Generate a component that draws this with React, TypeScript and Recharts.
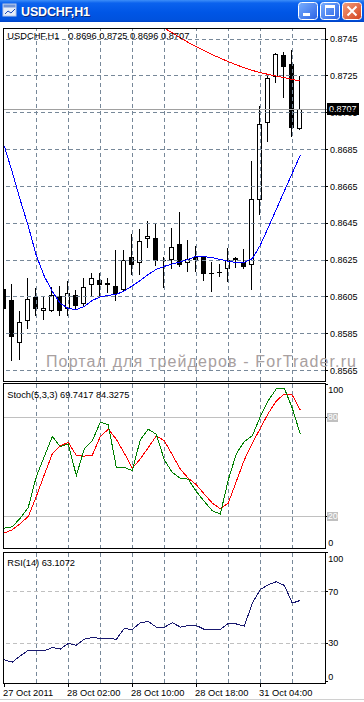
import React from 'react';
import { ComposedChart, Bar, Line, XAxis, YAxis, ReferenceLine } from 'recharts';

// ---------- data ----------
const openP = [0.86091, 0.86032, 0.85802, 0.85922, 0.8605, 0.85976, 0.85976, 0.86053, 0.85987, 0.86063, 0.86012, 0.86117, 0.86144, 0.86124, 0.86108, 0.86086, 0.86265, 0.86237, 0.86367, 0.86371, 0.86253, 0.86253, 0.86336, 0.86237, 0.86265, 0.86267, 0.86182, 0.86184, 0.86204, 0.86264, 0.86238, 0.86226, 0.86579, 0.86995, 0.87245, 0.87363, 0.87312, 0.8696];
const highP = [0.8612, 0.86122, 0.85972, 0.86155, 0.86098, 0.8605, 0.86104, 0.86108, 0.86137, 0.8609, 0.86155, 0.86182, 0.86182, 0.86155, 0.86307, 0.86307, 0.86394, 0.86417, 0.86463, 0.8645, 0.86268, 0.86427, 0.8651, 0.86358, 0.86325, 0.86272, 0.8624, 0.86229, 0.86318, 0.86268, 0.86309, 0.86789, 0.87086, 0.87249, 0.87376, 0.87377, 0.8739, 0.8725];
const lowP = [0.8566, 0.85706, 0.85715, 0.85883, 0.85954, 0.85932, 0.85972, 0.8595, 0.85954, 0.85987, 0.85999, 0.86059, 0.86063, 0.86077, 0.86036, 0.86082, 0.86173, 0.86177, 0.86321, 0.86222, 0.86104, 0.86209, 0.8622, 0.86191, 0.86191, 0.86144, 0.86082, 0.86164, 0.86137, 0.86213, 0.8621, 0.86095, 0.86499, 0.86897, 0.87218, 0.87137, 0.86925, 0.8696];
const closeP = [0.85985, 0.85831, 0.85916, 0.86037, 0.85987, 0.8599, 0.86063, 0.85976, 0.86073, 0.86003, 0.86106, 0.86155, 0.86117, 0.86113, 0.86068, 0.86253, 0.86226, 0.86356, 0.86379, 0.86245, 0.86245, 0.86323, 0.86224, 0.86256, 0.86249, 0.86174, 0.86177, 0.86184, 0.86253, 0.86249, 0.86213, 0.86584, 0.86988, 0.87237, 0.87369, 0.873, 0.86968, 0.8707];
const maFast = [0.86869, 0.86727, 0.86575, 0.86434, 0.86275, 0.86162, 0.8608, 0.86015, 0.85988, 0.85981, 0.85999, 0.86032, 0.8605, 0.86059, 0.86064, 0.86083, 0.8611, 0.8614, 0.86172, 0.862, 0.86216, 0.8623, 0.8624, 0.86254, 0.86271, 0.86269, 0.86263, 0.86254, 0.86243, 0.86238, 0.86238, 0.86258, 0.86331, 0.86428, 0.86526, 0.86624, 0.86722, 0.8682];
const maSlow = [null, null, null, null, null, null, null, null, null, null, null, null, null, null, null, null, null, null, 0.87568, 0.87538, 0.8751, 0.87483, 0.87456, 0.87431, 0.87408, 0.87386, 0.87365, 0.87346, 0.87327, 0.8731, 0.87294, 0.8728, 0.87267, 0.87258, 0.87249, 0.8724, 0.8723, 0.87222];
const stochMain = [12.7, 13.5, 18.8, 25.3, 44.0, 56.2, 68.3, 62.2, 63.8, 44.6, 60.8, 65.7, 77.0, 75.4, 49.7, 49.5, 47.7, 66.3, 72.7, 69.7, 54.1, 46.5, 43.0, 42.4, 34.9, 28.9, 23.2, 21.2, 42.0, 57.8, 65.3, 68.7, 80.4, 90.1, 97.2, 97.6, 85.5, 69.7417];
const stochSignal = [9.7, 11.7, 15.4, 19.8, 31.9, 45.1, 57.8, 62.6, 64.8, 56.8, 56.4, 57.0, 68.3, 72.7, 66.7, 58.2, 49.1, 54.7, 61.6, 68.7, 65.7, 57.2, 48.5, 43.0, 39.0, 33.3, 27.9, 24.4, 27.9, 41.0, 54.1, 64.2, 73.3, 82.4, 89.9, 94.1, 93.5, 84.3275];
const rsiValues = [17.1, 15.3, 20.2, 24.5, 24.2, 24.1, 26.7, 25.4, 29.9, 28.4, 33.1, 34.4, 33.8, 33.8, 33.0, 41.4, 40.5, 45.9, 46.8, 42.5, 42.3, 45.9, 42.5, 43.7, 43.7, 40.7, 40.7, 40.7, 45.4, 44.9, 43.3, 60.9, 71.6, 75.3, 77.6, 74.8, 61.1, 63.1072];

const priceTicks = [0.8745, 0.8725, 0.8705, 0.8685, 0.8665, 0.8645, 0.8625, 0.8605, 0.8585, 0.8565];
const stochTicks = [0, 20, 80, 100];
const stochLevels = [80, 20];
const rsiTicks = [0, 30, 70, 100];
const rsiLevels = [70, 30];
const gridBars = [4, 8, 12, 16, 20, 24, 28, 32, 36];
const timeTicks = [0, 8, 16, 24, 32];
const timeLabels = ['27 Oct 2011', '28 Oct 02:00', '28 Oct 10:00', '28 Oct 18:00', '31 Oct 04:00'];
const symbolName = 'USDCHF,H1';
const stochName = 'Stoch(5,3,3)';
const rsiName = 'RSI(14)';
const watermark = 'Портал для трейдеров - ForTrader.ru';

// ---------- derived tables ----------
const priceData = openP.map((o, i) => ({
  i,
  open: o,
  high: highP[i],
  low: lowP[i],
  close: closeP[i],
  range: [lowP[i], highP[i]],
  maFast: maFast[i],
  maSlow: maSlow[i],
}));
const stochData = stochMain.map((v, i) => ({ i, main: v, signal: stochSignal[i] }));
const rsiData = rsiValues.map((v, i) => ({ i, rsi: v }));
const last = priceData.length - 1;

const FONT = "'Liberation Sans', Arial, Helvetica, sans-serif";
const GRID = '#778899';
const X_DOMAIN: [number, number] = [-0.1625, 40.0875];

// ---------- shapes ----------
const Candle = (props: any) => {
  const { x, y, width, height, payload } = props;
  if (x == null || y == null || !payload) return null;
  const { open, close, high, low } = payload;
  const span = high - low;
  const toY = (p: number) => (span > 0 ? y + ((high - p) / span) * height : y);
  const c = Math.floor(x + width / 2);
  const yHigh = Math.round(toY(high));
  const yLow = Math.round(toY(low));
  const yTop = Math.round(toY(Math.max(open, close)));
  const yBot = Math.round(toY(Math.min(open, close)));
  const bull = close > open;
  let body;
  if (yBot - yTop < 2) {
    body = <rect x={c - 2} y={yTop} width={5} height={1} fill="#000" />;
  } else if (bull) {
    body = <rect x={c - 1.5} y={yTop + 0.5} width={4} height={yBot - yTop - 1} fill="#fff" stroke="#000" strokeWidth={1} />;
  } else {
    body = <rect x={c - 2} y={yTop} width={5} height={yBot - yTop} fill="#000" />;
  }
  return (
    <g>
      <line x1={c + 0.5} x2={c + 0.5} y1={yHigh} y2={yLow + 1} stroke="#000" strokeWidth={1} />
      {body}
    </g>
  );
};

const PriceTick = (props: any) => {
  const { x, y, payload } = props;
  return (
    <text x={x} y={y} dy="0.35em" fontSize={9} fontFamily={FONT} fill="#000" textAnchor="start">
      {Number(payload.value).toFixed(4)}
    </text>
  );
};

const makeLevelTick = (plotH: number, boxed: number[]) => (props: any) => {
  const { x, y, payload } = props;
  const v = payload.value;
  const ly = Math.min(Math.max(y, 7), plotH - 6);
  if (boxed.includes(v)) {
    return (
      <g>
        <rect x={x - 3.5} y={ly - 4.5} width={11} height={9} fill="#c0c0c0" />
        <text x={x - 2.3} y={ly} dy="0.35em" fontSize={9} fontFamily={FONT} fill="#fff" textAnchor="start">
          {v}
        </text>
      </g>
    );
  }
  return (
    <text x={x - 1.7} y={ly} dy="0.35em" fontSize={9} fontFamily={FONT} fill="#000" textAnchor="start">
      {v}
    </text>
  );
};

const TimeTick = (props: any) => {
  const { x, y, payload } = props;
  const idx = timeTicks.indexOf(payload.value);
  return (
    <text x={x - 1.2} y={y + 7} fontSize={9.3} fontFamily={FONT} fill="#000" textAnchor="start">
      {timeLabels[idx] ?? ''}
    </text>
  );
};

const PriceBox = (props: any) => {
  const vb = props.viewBox || {};
  const bx = (vb.x ?? 0) + (vb.width ?? 0) + 1.5;
  const by = vb.y ?? 0;
  return (
    <g>
      <line x1={(vb.x ?? 0) + (vb.width ?? 0)} x2={bx} y1={by} y2={by} stroke="#a0a0a0" />
      <rect x={bx} y={by - 6} width={32} height={12} fill="#000" />
      <text x={bx + 2.5} y={by} dy="0.35em" fontSize={9} fontFamily={FONT} fill="#fff" textAnchor="start">
        {closeP[last].toFixed(4)}
      </text>
    </g>
  );
};

const vGrid = (prefix: string) =>
  gridBars.map((k) => (
    <ReferenceLine key={prefix + k} x={k} stroke={GRID} strokeDasharray="4 3" strokeWidth={1} ifOverflow="extendDomain" />
  ));

// ---------- component ----------
export default function App() {
  const stochTick = makeLevelTick(166, stochLevels);
  const rsiTick = makeLevelTick(131, []);
  return (
    <div
      className="mt4"
      style={{ position: 'fixed', left: 0, top: 0, width: 364, height: 702, background: '#fff', overflow: 'hidden' }}
    >
      <style>{`.mt4 .recharts-wrapper svg line, .mt4 .recharts-wrapper svg path, .mt4 .recharts-wrapper svg rect { shape-rendering: crispEdges; }`}</style>

      {/* main price panel */}
      <div style={{ position: 'absolute', left: 0, top: 28 }}>
        <ComposedChart width={364} height={353} data={priceData} margin={{ top: 0, right: 0, bottom: 0, left: 3 }}>
          <XAxis dataKey="i" type="number" domain={X_DOMAIN} hide allowDataOverflow />
          <YAxis
            orientation="right"
            width={39}
            type="number"
            domain={[0.855941, 0.875097]}
            allowDataOverflow
            ticks={priceTicks}
            interval={0}
            tick={<PriceTick />}
            tickSize={3}
            tickMargin={2}
            tickLine={{ stroke: '#000' }}
            axisLine={false}
          />
          {priceTicks.map((p) => (
            <ReferenceLine key={'h' + p} y={p} stroke={GRID} strokeDasharray="4 3" />
          ))}
          {vGrid('m')}
          <ReferenceLine y={closeP[last]} stroke="#a0a0a0" label={(p: any) => <PriceBox {...p} />} />
          <Bar dataKey="range" barSize={5} isAnimationActive={false} shape={(p: any) => <Candle {...p} />} />
          <Line dataKey="maSlow" stroke="#ff0000" strokeWidth={1} dot={false} isAnimationActive={false} connectNulls={false} />
          <Line dataKey="maFast" stroke="#0000ff" strokeWidth={1} dot={false} isAnimationActive={false} />
        </ComposedChart>
      </div>

      {/* stochastic panel */}
      <div style={{ position: 'absolute', left: 0, top: 383 }}>
        <ComposedChart width={364} height={166} data={stochData} margin={{ top: 0, right: 0, bottom: 0, left: 3 }}>
          <XAxis dataKey="i" type="number" domain={X_DOMAIN} hide allowDataOverflow />
          <YAxis
            orientation="right"
            width={39}
            type="number"
            domain={[0, 100.8]}
            allowDataOverflow
            ticks={stochTicks}
            interval={0}
            tick={stochTick}
            tickSize={3}
            tickMargin={2}
            tickLine={{ stroke: '#000' }}
            axisLine={false}
          />
          {vGrid('s')}
          {stochLevels.map((l) => (
            <ReferenceLine key={'sl' + l} y={l} stroke="#c0c0c0" />
          ))}
          <Line dataKey="signal" stroke="#ff0000" strokeWidth={1} dot={false} isAnimationActive={false} />
          <Line dataKey="main" stroke="#008000" strokeWidth={1} dot={false} isAnimationActive={false} />
        </ComposedChart>
      </div>

      {/* RSI panel with time axis */}
      <div style={{ position: 'absolute', left: 0, top: 552 }}>
        <ComposedChart width={364} height={150} data={rsiData} margin={{ top: 0, right: 0, bottom: 0, left: 3 }}>
          <XAxis
            dataKey="i"
            type="number"
            domain={X_DOMAIN}
            allowDataOverflow
            ticks={timeTicks}
            interval={0}
            height={19}
            tick={<TimeTick />}
            tickSize={4}
            tickMargin={2}
            tickLine={{ stroke: '#000' }}
            axisLine={false}
          />
          <YAxis
            orientation="right"
            width={39}
            type="number"
            domain={[-0.8, 100.6]}
            allowDataOverflow
            ticks={rsiTicks}
            interval={0}
            tick={rsiTick}
            tickSize={3}
            tickMargin={2}
            tickLine={{ stroke: '#000' }}
            axisLine={false}
          />
          {vGrid('r')}
          {rsiLevels.map((l) => (
            <ReferenceLine key={'rl' + l} y={l} stroke="#c0c0c0" strokeDasharray="4 3" />
          ))}
          <Line dataKey="rsi" stroke="#191970" strokeWidth={1} dot={false} isAnimationActive={false} />
        </ComposedChart>
      </div>

      {/* window chrome, panel frames and texts */}
      <svg
        width={364}
        height={702}
        style={{ position: 'absolute', left: 0, top: 0, pointerEvents: 'none' }}
      >
        <defs>
          <linearGradient id="tb" x1="0" y1="0" x2="0" y2="1">
            <stop offset="0" stopColor="#3d8ef8" />
            <stop offset="0.14" stopColor="#0b62ee" />
            <stop offset="0.55" stopColor="#0056e6" />
            <stop offset="0.9" stopColor="#0052de" />
            <stop offset="1" stopColor="#0041c4" />
          </linearGradient>
          <linearGradient id="btn" x1="0" y1="0" x2="1" y2="1">
            <stop offset="0" stopColor="#7ab0ff" />
            <stop offset="1" stopColor="#2a62e4" />
          </linearGradient>
          <linearGradient id="cls" x1="0" y1="0" x2="1" y2="1">
            <stop offset="0" stopColor="#f3a07e" />
            <stop offset="1" stopColor="#d3411c" />
          </linearGradient>
        </defs>
        {/* title bar */}
        <rect x={0} y={0} width={364} height={22} fill="url(#tb)" />
        <rect x={3} y={4} width={13} height={12} fill="#e6edf8" stroke="#b8c8e8" />
        <rect x={3.5} y={4.5} width={12} height={3} fill="#6f93d6" />
        <polyline points="5,14 8,11 11,13 15,9" stroke="#1a49b8" fill="none" />
        <text x={22} y={17} fontSize={12.5} fontWeight="bold" fontFamily={FONT} fill="#0c2a7a" textLength={69}>
          {symbolName}
        </text>
        <text x={21} y={16} fontSize={12.5} fontWeight="bold" fontFamily={FONT} fill="#fff" textLength={69}>
          {symbolName}
        </text>
        <rect x={298.5} y={2.5} width={19} height={17} rx={3} fill="url(#btn)" stroke="#fff" />
        <rect x={303} y={13} width={7} height={3} fill="#fff" />
        <rect x={320.5} y={2.5} width={19} height={17} rx={3} fill="url(#btn)" stroke="#fff" />
        <rect x={325.5} y={6.5} width={9} height={9} fill="none" stroke="#fff" />
        <rect x={325} y={5} width={10} height={3} fill="#fff" />
        <rect x={342.5} y={2.5} width={19} height={17} rx={3} fill="url(#cls)" stroke="#fff" />
        <path d="M347.5,6.5 L356.5,15.5 M356.5,6.5 L347.5,15.5" stroke="#fff" strokeWidth={2} />

        {/* panel frames */}
        <rect x={3.5} y={28.5} width={322} height={353} fill="none" stroke="#000" shapeRendering="crispEdges" />
        <rect x={3.5} y={383.5} width={322} height={165} fill="none" stroke="#000" shapeRendering="crispEdges" />
        <rect x={3.5} y={552.5} width={322} height={131} fill="none" stroke="#000" shapeRendering="crispEdges" />

        {/* legends */}
        <text x={7.3} y={39.3} fontSize={9.3} fontFamily={FONT} fill="#000">
          {symbolName}
        </text>
        <text x={68.3} y={39.3} fontSize={9.3} fontFamily={FONT} fill="#000" textLength={121}>
          {[openP[last], highP[last], lowP[last], closeP[last]].map((v) => v.toFixed(4)).join(' ')}
        </text>
        <text x={7.3} y={397.5} fontSize={9.3} fontFamily={FONT} fill="#000" textLength={122}>
          {`${stochName} ${stochMain[last].toFixed(4)} ${stochSignal[last].toFixed(4)}`}
        </text>
        <text x={7.3} y={565.5} fontSize={9.3} fontFamily={FONT} fill="#000" textLength={67.7}>
          {`${rsiName} ${rsiValues[last].toFixed(4)}`}
        </text>

        {/* watermark */}
        <text x={46} y={366.5} fontSize={16} fontFamily={FONT} fill="#a8a0a0" textLength={310}>
          {watermark}
        </text>

        {/* bottom window edge */}
        <line x1={0} x2={364} y1={699.5} y2={699.5} stroke="#d0d0d0" />
      </svg>
    </div>
  );
}
